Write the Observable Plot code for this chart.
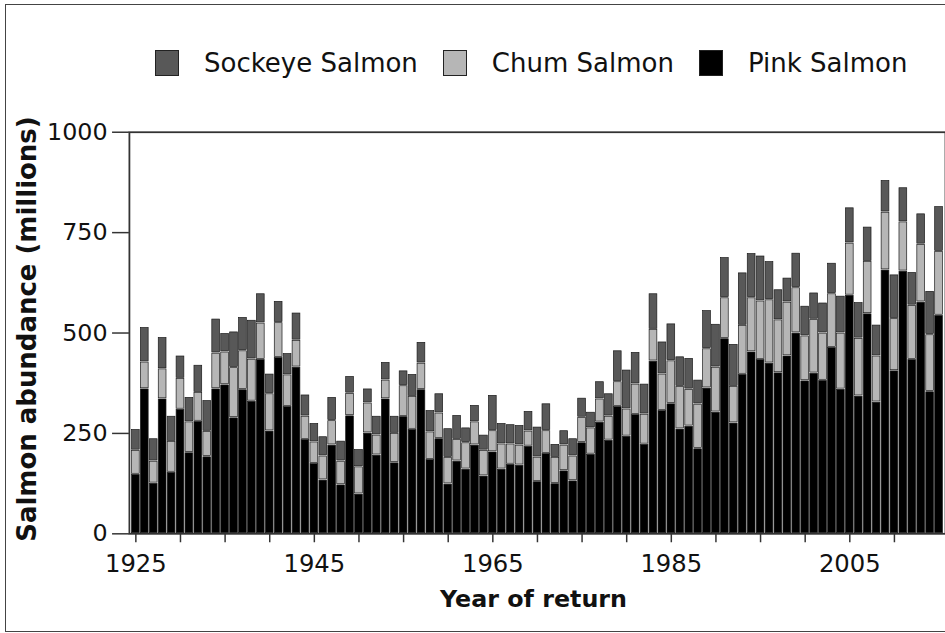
<!DOCTYPE html>
<html>
<head>
<meta charset="utf-8">
<script src="https://cdn.jsdelivr.net/npm/d3@7"></script>
<script src="https://cdn.jsdelivr.net/npm/@observablehq/plot@0.6"></script>
<style>
  html, body { margin: 0; padding: 0; background: #fff; width: 945px; height: 633px; overflow: hidden; }
  #fig { position: relative; width: 945px; height: 633px; font-family: "DejaVu Sans", sans-serif; color: #111; }
  #border { position: absolute; left: 5px; top: 4px; width: 1000px; height: 628px; border: 1.5px solid #444; box-sizing: border-box; }
  #legend { position: absolute; top: 48px; left: 155px; display: flex; align-items: center; font-size: 26px; line-height: 30px; white-space: nowrap; }
  #legend .sw { width: 24px; height: 26px; border: 1px solid #222; box-sizing: border-box; margin-right: 25px; }
  #legend .lab { margin-right: 25px; }
  #chart { position: absolute; left: 0; top: 100px; }
  #chart svg { overflow: visible; }
</style>
</head>
<body>
<div id="fig">
  <div id="border"></div>
  <div id="legend"></div>
  <div id="chart"></div>
</div>
<script>
// Year of return (one bar per year)
const years = [
  1925, 1926, 1927, 1928, 1929, 1930, 1931, 1932, 1933, 1934,
  1935, 1936, 1937, 1938, 1939, 1940, 1941, 1942, 1943, 1944,
  1945, 1946, 1947, 1948, 1949, 1950, 1951, 1952, 1953, 1954,
  1955, 1956, 1957, 1958, 1959, 1960, 1961, 1962, 1963, 1964,
  1965, 1966, 1967, 1968, 1969, 1970, 1971, 1972, 1973, 1974,
  1975, 1976, 1977, 1978, 1979, 1980, 1981, 1982, 1983, 1984,
  1985, 1986, 1987, 1988, 1989, 1990, 1991, 1992, 1993, 1994,
  1995, 1996, 1997, 1998, 1999, 2000, 2001, 2002, 2003, 2004,
  2005, 2006, 2007, 2008, 2009, 2010, 2011, 2012, 2013, 2014,
  2015
];

// Abundance by species, millions of fish
const pink = [
  148, 361, 126, 336, 153, 310, 202, 280, 192, 361,
  371, 289, 359, 330, 434, 256, 439, 317, 415, 235,
  175, 134, 221, 122, 294,  99, 251, 196, 336, 177,
  292, 260, 359, 185, 237, 124, 181, 161, 221, 144,
  204, 161, 173, 171, 218, 130, 200, 125, 157, 132,
  227, 198, 278, 233, 317, 243, 297, 223, 430, 307,
  324, 261, 268, 212, 363, 303, 486, 276, 397, 453,
  434, 425, 401, 443, 500, 381, 400, 382, 464, 360,
  594, 343, 548, 328, 657, 406, 654, 434, 577, 354,
  544
];
const chum = [
   60,  67,  55,  75,  77,  77,  77,  72,  63,  89,
   82, 125,  97, 105,  91,  93,  87,  79,  67,  58,
   54,  60,  61,  59,  56,  68,  75,  50,  47,  73,
   77,  82,  66,  69,  64,  66,  54,  66,  58,  64,
   53,  63,  51,  50,  38,  61,  57,  65,  64,  62,
   63,  66,  58,  60,  62,  68,  76,  75,  79,  91,
  107, 106,  92, 111,  98, 112, 102,  91, 122, 135,
  146, 158, 132, 134, 113, 112, 134, 118, 134, 140,
  130, 144, 130, 115, 144, 130, 123, 135, 144, 142,
  159
];
const sockeye = [
   52,  86,  56,  78,  63,  56,  61,  68,  77,  85,
   46,  89,  83,  97,  73,  49,  53,  53,  68,  53,
   46,  48,  58,  50,  42,  43,  35,  47,  44,  43,
   37,  55,  52,  53,  48,  72,  60,  37,  41,  38,
   88,  51,  48,  49,  49,  75,  67,  33,  36,  43,
   48,  39,  43,  56,  77,  97,  79,  75,  89,  80,
   92,  74,  77,  60,  95, 107, 100, 105, 131, 110,
  112,  95,  75,  60,  86,  74,  66,  75,  76,  92,
   88,  89,  86,  77,  79, 109,  85,  82,  76, 108,
  112
];

const species = ["Sockeye Salmon", "Chum Salmon", "Pink Salmon"];
const speciesColors = ["#585858", "#b6b6b6", "#000000"];
const stackOrder = ["Pink Salmon", "Chum Salmon", "Sockeye Salmon"];

const yTicks = [0, 250, 500, 750, 1000];
const xTicks = [1925, 1930, 1935, 1940, 1945, 1950, 1955, 1960, 1965, 1970,
                1975, 1980, 1985, 1990, 1995, 2000, 2005, 2010];
const xTickLabels = [1925, 1945, 1965, 1985, 2005];

const yTitle = "Salmon abundance (millions)";
const xTitle = "Year of return";

// long format: one row per year and species
const rows = years.flatMap((year, i) => [
  {year, species: "Pink Salmon", value: pink[i]},
  {year, species: "Chum Salmon", value: chum[i]},
  {year, species: "Sockeye Salmon", value: sockeye[i]}
]);

// legend
const legend = document.getElementById("legend");
species.forEach((s, i) => {
  const sw = document.createElement("div");
  sw.className = "sw";
  sw.style.background = speciesColors[i];
  const lab = document.createElement("div");
  lab.className = "lab";
  lab.textContent = s;
  legend.append(sw, lab);
});

const chart = Plot.plot({
  width: 953,
  height: 522,
  marginLeft: 130,
  marginRight: 0,
  marginTop: 32,
  marginBottom: 85,
  style: {fontFamily: "DejaVu Sans, sans-serif", fontSize: "24px", color: "#111", background: "transparent", overflow: "visible"},
  x: {type: "band", domain: years, padding: 0, axis: null},
  y: {domain: [0, 1000], axis: null},
  color: {domain: species, range: speciesColors},
  marks: [
    Plot.barY(rows, {
      x: "year", y: "value", fill: "species", order: stackOrder,
      stroke: "#1a1a1a", strokeWidth: 0.7, inset: 0.6
    }),
    Plot.frame({stroke: "#333", strokeWidth: 1.8}),
    Plot.axisY({
      ticks: yTicks, tickSize: 17, tickPadding: 5, label: null, fontSize: 24,
      stroke: "#333", strokeWidth: 1.5, tickFormat: (d) => String(d)
    }),
    Plot.axisX({
      ticks: xTicks, tickSize: 9, tickPadding: 12, label: null, fontSize: 24.5,
      stroke: "#333", strokeWidth: 1.5,
      tickFormat: (d) => xTickLabels.includes(d) ? String(d) : ""
    }),
    Plot.text([yTitle], {
      frameAnchor: "left", textAnchor: "middle", rotate: -90, dx: -103, dy: -4,
      lineAnchor: "middle", fontWeight: "bold", fontSize: 26.2, fill: "#111"
    }),
    Plot.text([xTitle], {
      frameAnchor: "bottom", dx: -4, dy: 57, lineAnchor: "top",
      fontWeight: "bold", fontSize: 24, fill: "#111"
    })
  ]
});
document.getElementById("chart").append(chart);
</script>
</body>
</html>
